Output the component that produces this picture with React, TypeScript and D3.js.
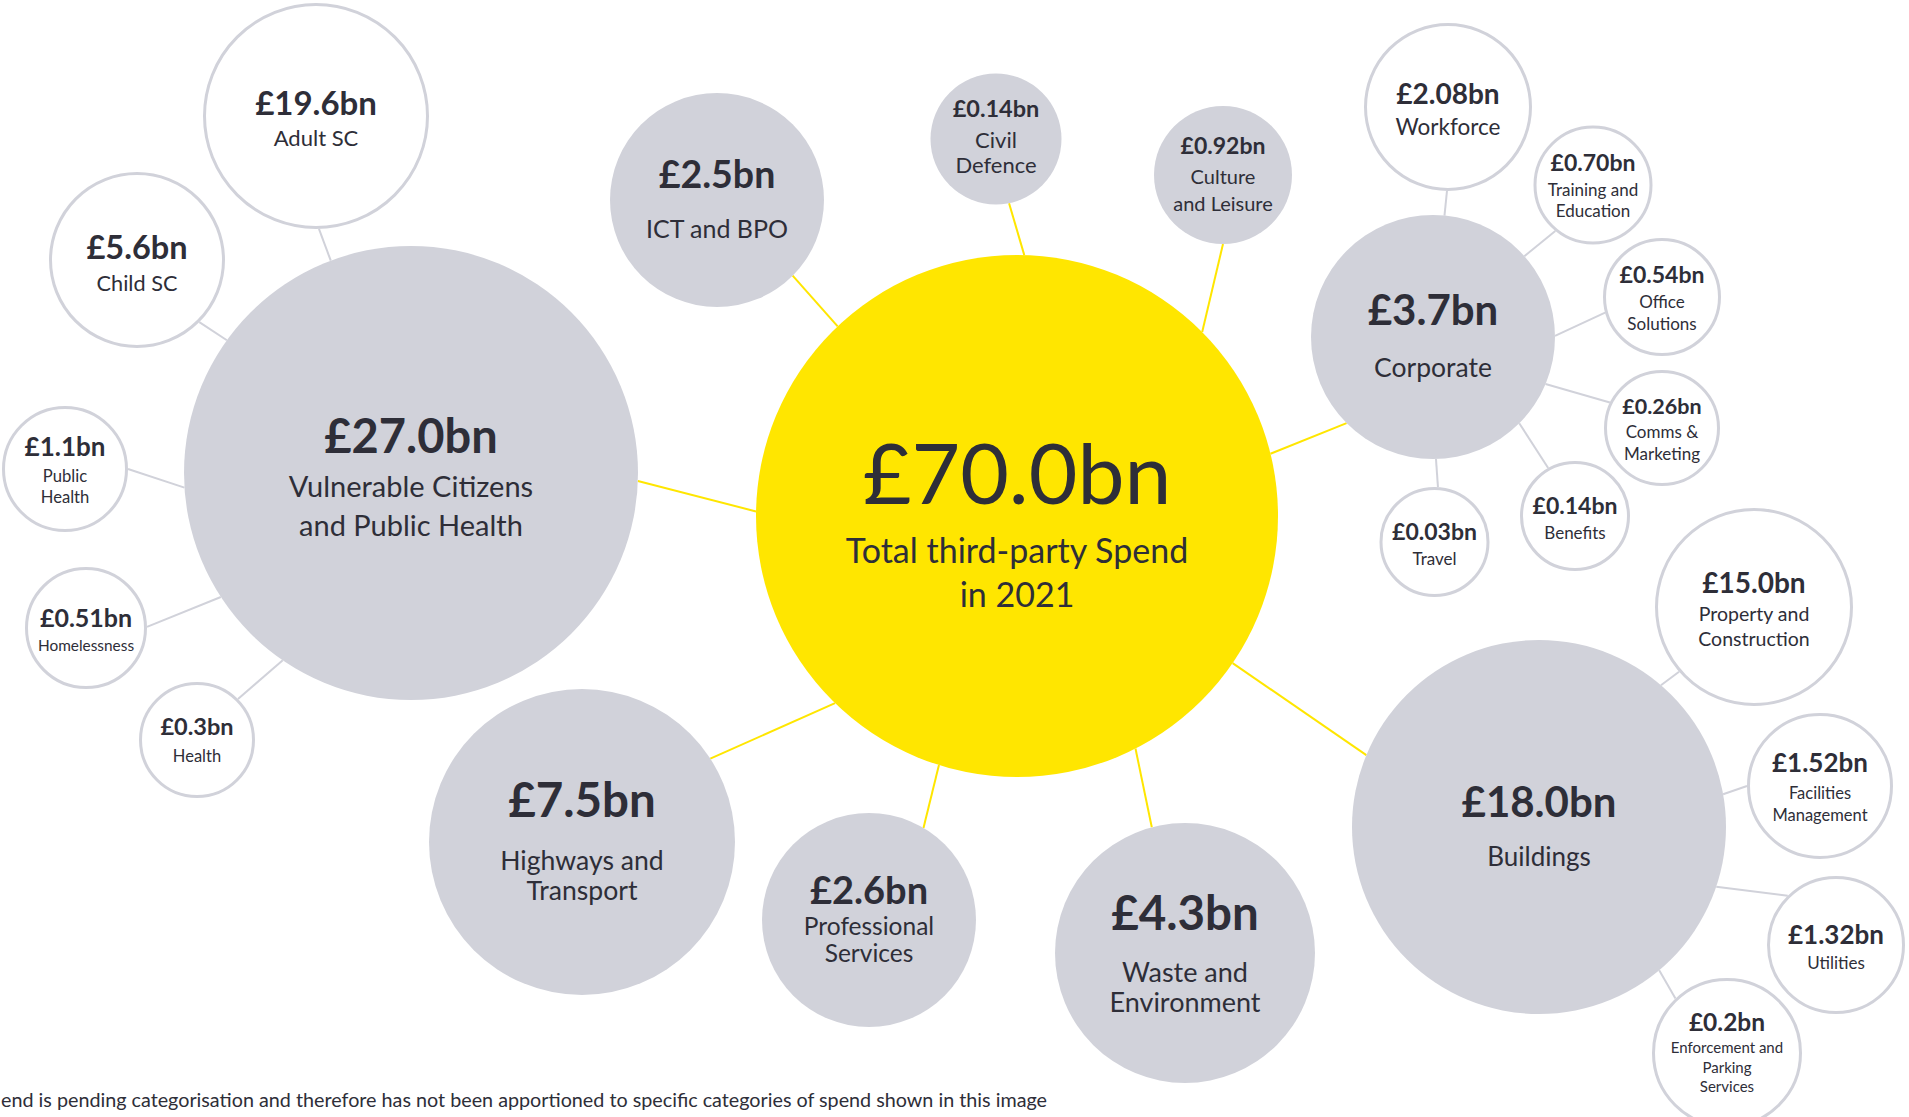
import React from "react";
import * as d3 from "d3";

// ---------- DATA ----------
const totalValue = 70.0;
const totalLines = ["Total third-party Spend", "in 2021"];

const categoryNames = [
  "Vulnerable Citizens and Public Health",
  "ICT and BPO",
  "Civil Defence",
  "Culture and Leisure",
  "Corporate",
  "Buildings",
  "Waste and Environment",
  "Professional Services",
  "Highways and Transport",
];
const categoryLines = [
  ["Vulnerable Citizens", "and Public Health"],
  ["ICT and BPO"],
  ["Civil", "Defence"],
  ["Culture", "and Leisure"],
  ["Corporate"],
  ["Buildings"],
  ["Waste and", "Environment"],
  ["Professional", "Services"],
  ["Highways and", "Transport"],
];
const categoryValues = [27.0, 2.5, 0.14, 0.92, 3.7, 18.0, 4.3, 2.6, 7.5];
const categoryDecimals = [1, 1, 2, 2, 1, 1, 1, 1, 1];

const subParents = [
  "Vulnerable Citizens and Public Health",
  "Vulnerable Citizens and Public Health",
  "Vulnerable Citizens and Public Health",
  "Vulnerable Citizens and Public Health",
  "Vulnerable Citizens and Public Health",
  "Corporate",
  "Corporate",
  "Corporate",
  "Corporate",
  "Corporate",
  "Corporate",
  "Buildings",
  "Buildings",
  "Buildings",
  "Buildings",
];
const subLines = [
  ["Adult SC"],
  ["Child SC"],
  ["Public", "Health"],
  ["Homelessness"],
  ["Health"],
  ["Workforce"],
  ["Training and", "Education"],
  ["Office", "Solutions"],
  ["Comms &", "Marketing"],
  ["Benefits"],
  ["Travel"],
  ["Property and", "Construction"],
  ["Facilities", "Management"],
  ["Utilities"],
  ["Enforcement and", "Parking", "Services"],
];
const subValues = [19.6, 5.6, 1.1, 0.51, 0.3, 2.08, 0.7, 0.54, 0.26, 0.14, 0.03, 15.0, 1.52, 1.32, 0.2];
const subDecimals = [1, 1, 1, 2, 1, 2, 2, 2, 2, 2, 2, 1, 2, 2, 1];

// visible part of the footnote (the reference image is cropped at its left edge)
const footnote =
  "end is pending categorisation and therefore has not been apportioned to specific categories of spend shown in this image";

// ---------- LAYOUT (positions / sizes) ----------
const totalLayout = { cx: 1017, cy: 516, r: 261, vs: 84, vdy: -12, ls: 34, ldy: [47, 91] };

// a1: angle of link on the parent circle, a2: angle on this circle (degrees, svg coords)
const categoryLayout = [
  { cx: 411, cy: 473, r: 227, vs: 47, vdy: -20, ls: 29, ldy: [24, 63], a1: 181, a2: 2 },
  { cx: 717, cy: 200, r: 107, vs: 37.5, vdy: -12, ls: 25, ldy: [38], a1: 226.6, a2: 45 },
  { cx: 996, cy: 139, r: 65.5, vs: 23.5, vdy: -22, ls: 22, ldy: [9, 34], a1: 271.6, a2: 78.5 },
  { cx: 1223, cy: 175, r: 69, vs: 23, vdy: -21, ls: 20, ldy: [9, 36], a1: 315.2, a2: 90 },
  { cx: 1433, cy: 337, r: 122, vs: 42, vdy: -12, ls: 26.5, ldy: [40], a1: 346.2, a2: 135.1 },
  { cx: 1539, cy: 827, r: 187, vs: 42, vdy: -10, ls: 26, ldy: [39], a1: 34.3, a2: 202.6 },
  { cx: 1185, cy: 953, r: 130, vs: 47.5, vdy: -23, ls: 27, ldy: [29, 59], a1: 63, a2: 255.2 },
  { cx: 869, cy: 920, r: 107, vs: 38, vdy: -16, ls: 24.5, ldy: [15, 42], a1: 107.4, a2: 300.6 },
  { cx: 582, cy: 842, r: 153, vs: 47.5, vdy: -25, ls: 26.6, ldy: [28, 57.5], a1: 134.2, a2: 327 },
];

const subLayout = [
  { cx: 316, cy: 116, r: 113, vs: 33, vdy: -1, ls: 22, ldy: [30], a1: 249.3, a2: 88.5 },
  { cx: 137, cy: 260, r: 88, vs: 32.5, vdy: -1, ls: 21.7, ldy: [30.5], a1: 215.8, a2: 44.9 },
  { cx: 65, cy: 469, r: 63, vs: 26, vdy: -13, ls: 16.6, ldy: [13, 34], a1: 176.3, a2: 0 },
  { cx: 86, cy: 628, r: 61, vs: 25, vdy: -1, ls: 15.4, ldy: [23], a1: 146.9, a2: 359 },
  { cx: 197, cy: 740, r: 58, vs: 23.5, vdy: -5, ls: 16.5, ldy: [22], a1: 124.4, a2: 315 },
  { cx: 1448, cy: 107, r: 84, vs: 28, vdy: -3, ls: 22.5, ldy: [28], a1: 275.4, a2: 90.7 },
  { cx: 1593, cy: 185, r: 59.5, vs: 23, vdy: -14, ls: 17, ldy: [11, 32], a1: 318.5, a2: 129.3 },
  { cx: 1662, cy: 297, r: 59, vs: 23, vdy: -14, ls: 17, ldy: [11, 33], a1: 359.5, a2: 164.6 },
  { cx: 1662, cy: 428, r: 58, vs: 21.5, vdy: -14, ls: 17, ldy: [10, 32], a1: 22.7, a2: 206 },
  { cx: 1575, cy: 516, r: 55, vs: 23, vdy: -2, ls: 17, ldy: [23], a1: 45, a2: 240.8 },
  { cx: 1434.5, cy: 542, r: 55, vs: 23, vdy: -2, ls: 17, ldy: [22.5], a1: 88.6, a2: 273.6 },
  { cx: 1754, cy: 607, r: 99, vs: 28, vdy: -14.5, ls: 19.5, ldy: [14, 39], a1: 310.7, a2: 139.2 },
  { cx: 1820, cy: 786, r: 73, vs: 26, vdy: -14, ls: 16.5, ldy: [13, 35], a1: 349.9, a2: 180 },
  { cx: 1836, cy: 945, r: 69, vs: 26, vdy: -1, ls: 17, ldy: [24], a1: 18.6, a2: 225.6 },
  { cx: 1727, cy: 1053, r: 75, vs: 24.5, vdy: -22.5, ls: 15, ldy: [0, 20, 39], a1: 50, a2: 226.6 },
];

const W = 1909;
const H = 1117;
const YELLOW = "#FFE600";
const GREY = "#D1D2DA";
const TEXT = "#2E2E38";
const FONT = "Lato, 'Open Sans', sans-serif";

const fmt = (v: number, d: number) => "£" + d3.format(`.${d}f`)(v) + "bn";

function edgePoint(c: { cx: number; cy: number; r: number }, deg: number) {
  const a = (deg * Math.PI) / 180;
  return [c.cx + c.r * Math.cos(a), c.cy + c.r * Math.sin(a)];
}

type Node = {
  key: string;
  lay: any;
  value: number;
  decimals: number;
  lines: string[];
  kind: "total" | "cat" | "sub";
  parent?: any;
};

export default function App() {
  React.useEffect(() => {
    document.body.style.margin = "0";
    document.body.style.overflow = "hidden";
  }, []);

  const nodes: Node[] = [];
  nodes.push({ key: "total", lay: totalLayout, value: totalValue, decimals: 1, lines: totalLines, kind: "total" });
  const catByName: Record<string, any> = {};
  categoryNames.forEach((n, i) => {
    catByName[n] = categoryLayout[i];
    nodes.push({
      key: n,
      lay: categoryLayout[i],
      value: categoryValues[i],
      decimals: categoryDecimals[i],
      lines: categoryLines[i],
      kind: "cat",
      parent: totalLayout,
    });
  });
  subValues.forEach((v, i) => {
    nodes.push({
      key: "sub" + i,
      lay: subLayout[i],
      value: v,
      decimals: subDecimals[i],
      lines: subLines[i],
      kind: "sub",
      parent: catByName[subParents[i]],
    });
  });

  const links = nodes.filter((n) => n.parent);

  return (
    <svg
      width={W}
      height={H}
      viewBox={`0 0 ${W} ${H}`}
      style={{ position: "absolute", left: 0, top: 0, display: "block", background: "#fff" }}
      fontFamily={FONT}
    >
      <rect x={0} y={0} width={W} height={H} fill="#fff" />
      <g>
        {links.map((n) => {
          const [x1, y1] = edgePoint(n.parent, n.lay.a1);
          const [x2, y2] = edgePoint(n.lay, n.lay.a2);
          return (
            <line
              key={"l" + n.key}
              x1={x1}
              y1={y1}
              x2={x2}
              y2={y2}
              stroke={n.kind === "cat" ? YELLOW : GREY}
              strokeWidth={2}
            />
          );
        })}
      </g>
      <g>
        {nodes.map((n) => (
          <circle
            key={"c" + n.key}
            cx={n.lay.cx}
            cy={n.lay.cy}
            r={n.kind === "sub" ? n.lay.r - 1.5 : n.lay.r}
            fill={n.kind === "total" ? YELLOW : n.kind === "cat" ? GREY : "#fff"}
            stroke={n.kind === "sub" ? GREY : "none"}
            strokeWidth={n.kind === "sub" ? 3 : 0}
          />
        ))}
      </g>
      <g fill={TEXT} textAnchor="middle">
        {nodes.map((n) => (
          <g key={"t" + n.key}>
            <text
              x={n.lay.cx}
              y={n.lay.cy + n.lay.vdy}
              fontSize={n.lay.vs}
              fontWeight={n.kind === "total" ? 400 : 700}
            >
              {fmt(n.value, n.decimals)}
            </text>
            {n.lines.map((t, j) => (
              <text key={j} x={n.lay.cx} y={n.lay.cy + n.lay.ldy[j]} fontSize={n.lay.ls}>
                {t}
              </text>
            ))}
          </g>
        ))}
      </g>
      <text
        x={1}
        y={1107}
        fontSize={19.6}
        fill={TEXT}
        textAnchor="start"
        fontFamily={FONT}
        textLength={1046}
        lengthAdjust="spacingAndGlyphs"
      >
        {footnote}
      </text>
    </svg>
  );
}
